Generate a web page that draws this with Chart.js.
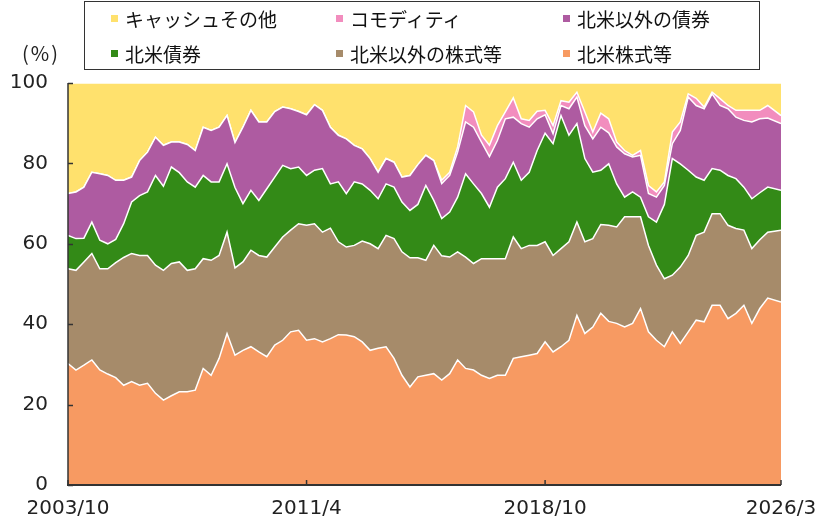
<!DOCTYPE html>
<html lang="ja">
<head>
<meta charset="utf-8">
<script src="https://cdn.jsdelivr.net/npm/chart.js@4.4.1/dist/chart.umd.min.js"></script>
<style>
  html, body { margin: 0; padding: 0; background: #fff; }
  #wrap { position: relative; width: 836px; height: 523px; }
  #chart { position: absolute; left: 0; top: 0; }
  #unit {
    position: absolute; left: 22px; top: 38px;
    font: 20px "Noto Sans CJK JP", sans-serif; color: #222; letter-spacing: 2px;
  }
  #legend {
    position: absolute; left: 84px; top: 1px; width: 676px; height: 69px;
    border: 1px solid #333; box-sizing: border-box;
    display: grid; grid-template-columns: 225px 227px auto; grid-auto-rows: 35px;
    padding-left: 26px; margin-top: 0;
  }
  #legend .item:nth-child(-n+3) { margin-top: -2px; }
  #legend .item:nth-child(n+4) { margin-top: -3px; }
  .item { display: flex; align-items: center; font: 19px "Noto Sans CJK JP", sans-serif; color: #111; white-space: nowrap; }
  .sw { width: 7px; height: 7px; margin-right: 7px; flex: none; }
</style>
</head>
<body>
<div id="wrap">
  <canvas id="chart" width="836" height="523"></canvas>
  <div id="unit">(%)</div>
  <div id="legend"></div>
</div>
<script>
// ==========================
// DATA (quarterly samples, last point 2026/3)
// ==========================

const startLabel = '2003/10';
const endLabel = '2026/3';
const xTickLabels = ['2003/10', '2011/4', '2018/10', '2026/3'];
const yTicks = [0, 20, 40, 60, 80, 100];

// bottom -> top stacking order
const seriesNames = ['北米株式等', '北米以外の株式等', '北米債券', '北米以外の債券', 'コモディティ', 'キャッシュその他'];
const seriesColors = ['#F79A62', '#A68B6A', '#338A17', '#AE5BA1', '#F28DBE', '#FFE16D'];

const naEquity = [
    30.2, 28.6, 29.8, 31.1, 28.6, 27.6, 26.7, 24.8, 25.7, 24.8,
    25.3, 22.8, 21.1, 22.2, 23.2, 23.2, 23.6, 29.0, 27.3, 31.5,
    37.7, 32.3, 33.5, 34.4, 33.1, 31.9, 34.8, 36.0, 38.1, 38.5,
    36.0, 36.4, 35.6, 36.4, 37.4, 37.3, 36.9, 35.6, 33.5, 34.0,
    34.4, 31.5, 27.3, 24.4, 26.9, 27.3, 27.7, 26.1, 27.7, 31.1,
    29.0, 28.6, 27.3, 26.5, 27.3, 27.3, 31.5, 31.9, 32.3, 32.7,
    35.6, 33.1, 34.4, 36.0, 42.2, 37.7, 39.3, 42.7, 40.7, 40.2,
    39.3, 40.2, 43.9, 38.1, 36.0, 34.4, 38.1, 35.2, 38.1, 41.0,
    40.6, 44.7, 44.7, 41.4, 42.7, 44.7, 40.2, 43.9, 46.5, 45.5,
    41.4
];

const otherEquity = [
    23.6, 24.8, 25.7, 26.5, 25.2, 26.2, 28.6, 31.8, 31.9, 32.3,
    31.8, 31.9, 32.3, 32.9, 32.3, 30.2, 30.2, 27.3, 28.6, 25.6,
    25.2, 21.7, 22.0, 24.0, 24.0, 24.8, 24.4, 25.7, 25.3, 26.5,
    28.6, 28.6, 27.3, 27.5, 23.1, 21.9, 22.7, 25.1, 26.5, 24.8,
    27.7, 29.8, 30.7, 32.1, 29.6, 28.6, 31.9, 30.9, 29.0, 26.9,
    27.7, 26.5, 29.0, 29.8, 29.0, 29.0, 30.2, 26.9, 27.3, 26.9,
    24.9, 24.0, 24.4, 24.5, 23.2, 22.8, 22.0, 22.1, 23.9, 24.0,
    27.4, 26.5, 22.8, 21.5, 18.7, 16.9, 14.1, 19.0, 19.0, 21.1,
    22.3, 22.8, 22.8, 23.2, 21.1, 18.7, 18.6, 17.1, 16.4, 17.9,
    19.5
];

const naBond = [
    8.3, 7.9, 5.9, 7.8, 7.1, 6.2, 5.8, 8.4, 12.8, 14.9,
    15.8, 22.3, 20.9, 24.0, 22.2, 22.0, 20.3, 20.7, 19.5, 18.3,
    17.0, 20.0, 14.5, 14.9, 13.7, 17.0, 17.4, 17.8, 15.3, 14.1,
    12.4, 13.3, 15.8, 11.0, 14.9, 13.3, 15.8, 14.2, 13.3, 12.4,
    12.8, 12.8, 12.4, 11.8, 13.3, 18.6, 11.2, 9.3, 11.2, 13.6,
    20.7, 19.8, 16.2, 12.8, 17.8, 19.9, 18.6, 17.0, 18.2, 23.6,
    27.0, 27.8, 33.1, 26.5, 24.5, 20.7, 16.5, 13.5, 15.3, 10.7,
    4.9, 6.2, 4.9, 7.1, 10.7, 18.5, 29.0, 25.7, 21.2, 14.5,
    12.9, 11.2, 10.8, 12.4, 12.4, 10.7, 12.4, 11.7, 11.2, 9.9,
    10.3
];

const otherBond = [
    10.4, 11.6, 12.7, 12.4, 16.5, 17.0, 14.7, 10.8, 6.2, 8.7,
    9.9, 9.5, 10.2, 6.2, 7.6, 9.3, 9.1, 12.0, 12.8, 13.6,
    12.0, 11.2, 19.0, 19.9, 19.5, 16.6, 16.3, 14.5, 14.9, 13.8,
    15.1, 16.3, 14.5, 14.1, 11.6, 13.6, 9.1, 8.7, 7.9, 6.6,
    6.3, 6.2, 6.2, 8.7, 9.9, 7.5, 9.9, 8.7, 9.1, 11.2,
    12.9, 14.1, 12.8, 12.6, 11.6, 14.9, 11.2, 14.1, 11.2, 7.9,
    4.6, 2.5, 2.5, 6.6, 6.6, 8.2, 8.3, 10.7, 7.7, 9.2,
    10.8, 8.7, 10.4, 5.8, 6.2, 4.7, 3.7, 8.3, 18.2, 17.8,
    17.8, 18.6, 16.1, 16.6, 15.3, 16.6, 19.1, 18.4, 17.2, 16.6,
    13.3
];

const commodity = [
    0, 0, 0, 0, 0, 0, 0, 0, 0, 0,
    0, 0, 0, 0, 0, 0, 0, 0, 0, 0,
    0, 0, 0, 0, 0, 0, 0, 0, 0, 0,
    0, 0, 0, 0, 0, 0, 0, 0, 0, 0,
    0, 0, 0, 0, 0, 0, 0, 0.8, 0.8, 1.3,
    4.1, 3.8, 1.7, 2.8, 3.7, 1.7, 4.8, 1.2, 1.7, 1.9,
    1.1, 2.0, 1.2, 1.6, 1.2, 3.4, 1.7, 3.5, 3.5, 1.2,
    0.8, 0.4, 1.2, 2.0, 1.3, 0.9, 2.9, 2.1, 0.8, 1.8,
    0.4, 0.4, 1.7, 0.8, 1.7, 2.5, 2.9, 2.1, 3.1, 2.0,
    2.9
];

const cashOther = [
    27.5, 27.1, 25.9, 22.2, 22.6, 23.0, 24.2, 24.2, 23.4, 19.3,
    17.2, 13.5, 15.5, 14.7, 14.7, 15.3, 16.8, 11.0, 11.8, 11.0,
    8.1, 14.8, 11.0, 6.8, 9.7, 9.7, 7.1, 6.0, 6.4, 7.1,
    7.9, 5.4, 6.8, 11.0, 13.0, 13.9, 15.5, 16.4, 18.8, 22.2,
    18.8, 19.7, 23.4, 23.0, 20.3, 18.0, 19.3, 24.2, 22.2, 15.9,
    5.6, 7.2, 13.0, 15.5, 10.6, 7.2, 3.7, 8.9, 9.3, 7.0,
    6.8, 10.6, 4.4, 4.8, 2.3, 7.2, 12.2, 7.5, 8.9, 14.7,
    16.8, 18.0, 16.8, 25.5, 27.1, 24.6, 12.2, 9.7, 2.7, 3.8,
    6.0, 2.3, 3.9, 5.6, 6.8, 6.8, 6.8, 6.8, 5.6, 8.1,
    12.6
];

// ==========================
// DATES
// ==========================

function monthIndex(label) {
    const [y, m] = label.split('/').map(Number);
    const [y0, m0] = startLabel.split('/').map(Number);
    return (y - y0) * 12 + (m - m0);
}

function monthLabel(idx) {
    const [y0, m0] = startLabel.split('/').map(Number);
    const t = m0 - 1 + idx;
    return (y0 + Math.floor(t / 12)) + '/' + (t % 12 + 1);
}

const lastIdx = monthIndex(endLabel);
let dates = [];
for (let i = 0; i < lastIdx - 2; i += 3) dates.push(monthLabel(i));
dates.push(endLabel);
const xs = dates.map(monthIndex);

// ==========================
// CHART
// ==========================

const allSeries = [naEquity, otherEquity, naBond, otherBond, commodity, cashOther];

const datasets = allSeries.map((vals, i) => ({
    label: seriesNames[i],
    data: vals.map((v, j) => ({ x: xs[j], y: v })),
    backgroundColor: seriesColors[i],
    borderColor: '#ffffff',
    borderWidth: 1.5,
    pointRadius: 0,
    tension: 0,
    fill: i === 0 ? 'origin' : '-1'
}));

const axisPlugin = {
    id: 'axisPlugin',
    afterDatasetsDraw(chart) {
        const { ctx, chartArea: a, scales } = chart;
        ctx.save();
        ctx.strokeStyle = '#333';
        ctx.lineWidth = 1.5;
        // y ticks pointing inward
        yTicks.forEach(v => {
            const y = Math.round(scales.y.getPixelForValue(v)) + 0.5;
            ctx.beginPath();
            ctx.moveTo(a.left, y);
            ctx.lineTo(a.left + 5, y);
            ctx.stroke();
        });
        // x ticks pointing inward
        xTickLabels.forEach(l => {
            const x = scales.x.getPixelForValue(monthIndex(l));
            ctx.beginPath();
            ctx.moveTo(x, a.bottom);
            ctx.lineTo(x, a.bottom - 5);
            ctx.stroke();
        });
        // axis lines
        ctx.beginPath();
        ctx.moveTo(a.left, a.top);
        ctx.lineTo(a.left, a.bottom);
        ctx.stroke();
        ctx.lineWidth = 2;
        ctx.beginPath();
        ctx.moveTo(a.left - 1, a.bottom);
        ctx.lineTo(a.right, a.bottom);
        ctx.stroke();
        ctx.restore();
    }
};

const ctx = document.getElementById('chart').getContext('2d');

let chart = new Chart(ctx, {
    type: 'line',
    data: { datasets: datasets },
    options: {
        responsive: false,
        animation: false,
        layout: { padding: { top: 83, right: 55, left: 0, bottom: 0 } },
        plugins: { legend: { display: false }, tooltip: { enabled: false } },
        scales: {
            x: {
                type: 'linear',
                min: 0,
                max: lastIdx,
                grid: { display: false, drawTicks: false },
                border: { display: false },
                afterBuildTicks: s => { s.ticks = xTickLabels.map(l => ({ value: monthIndex(l) })); },
                afterFit: s => { s.height = 38; },
                ticks: {
                    autoSkip: false,
                    maxRotation: 0,
                    padding: 12,
                    color: '#222',
                    font: { family: 'DejaVu Sans', size: 20 },
                    callback: v => monthLabel(v)
                }
            },
            y: {
                stacked: true,
                min: 0,
                max: 100,
                grid: { display: false, drawTicks: false },
                border: { display: false },
                afterFit: s => { s.width = 68; },
                ticks: {
                    stepSize: 20,
                    padding: 20,
                    color: '#222',
                    font: { family: 'DejaVu Sans', size: 20 }
                }
            }
        }
    },
    plugins: [axisPlugin]
});

// ==========================
// LEGEND (top to bottom of the stack)
// ==========================

const legendBox = document.getElementById('legend');
for (let i = seriesNames.length - 1; i >= 0; i--) {
    const item = document.createElement('div');
    item.className = 'item';
    const sw = document.createElement('span');
    sw.className = 'sw';
    sw.style.background = seriesColors[i];
    item.appendChild(sw);
    item.appendChild(document.createTextNode(seriesNames[i]));
    legendBox.appendChild(item);
}
</script>
</body>
</html>
